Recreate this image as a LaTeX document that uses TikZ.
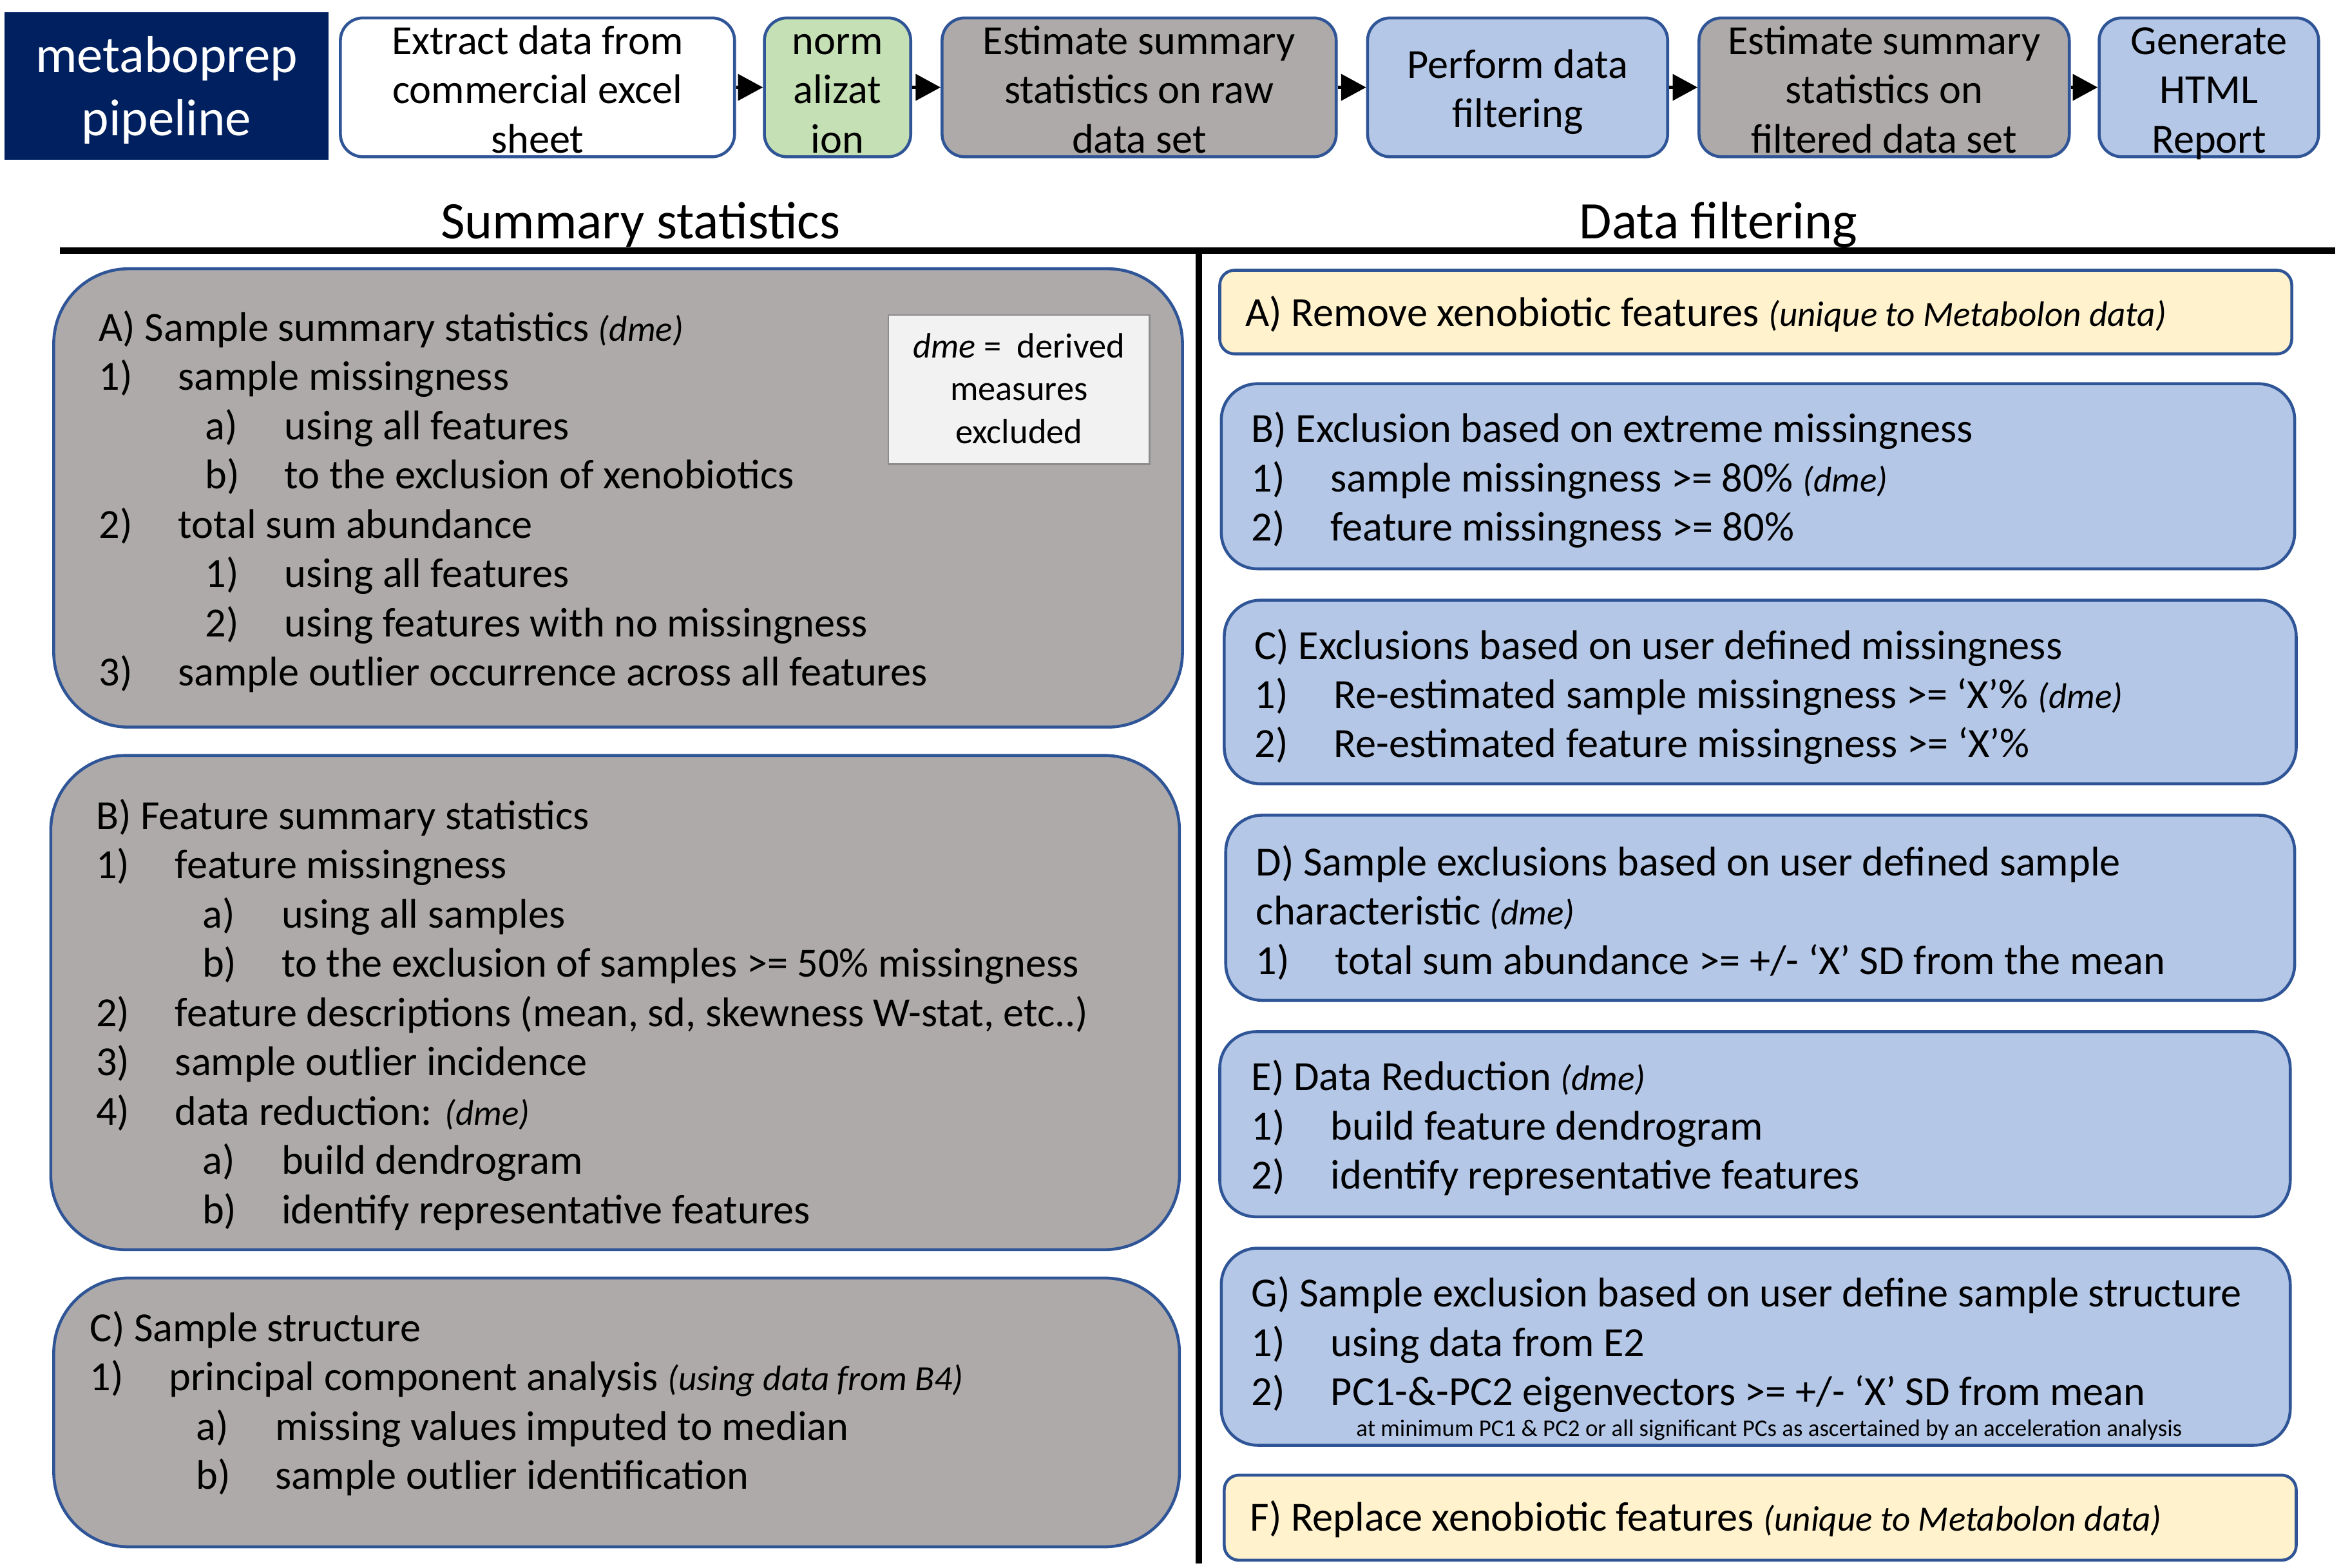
\documentclass[tikz,border=0pt]{standalone}
\usepackage{fontspec}
\setmainfont{Carlito}
\usetikzlibrary{arrows.meta,fit}

\definecolor{navy}{HTML}{002060}
\definecolor{bord}{HTML}{2F5597}
\definecolor{gris}{HTML}{AEAAAA}
\definecolor{bleu}{HTML}{B4C7E7}
\definecolor{vert}{HTML}{C5E0B4}
\definecolor{jaune}{HTML}{FFF2CC}
\definecolor{note}{HTML}{F2F2F2}

\newcommand\dm[1]{{\fontsize{15.7}{21.76}\selectfont\itshape #1}}
\newcommand\itm[2]{\makebox[35pt][l]{#1}#2}
\newcommand\subitm[2]{\hspace*{47pt}\makebox[35pt][l]{#1}#2}

\tikzset{
  etape/.style={draw=bord, line width=1.3pt, rounded corners=10pt, inner sep=0pt},
  gauche/.style={draw=bord, line width=1.3pt, fill=gris, rounded corners=33pt, inner sep=0pt},
  droite/.style={draw=bord, line width=1.3pt, fill=bleu, rounded corners=16pt, inner sep=0pt},
  jaunebox/.style={draw=bord, line width=1.3pt, fill=jaune, rounded corners=6.5pt, inner sep=0pt},
  txt/.style={anchor=north west, align=left, inner sep=0pt},
  etiq/.style={anchor=north, align=center, inner sep=0pt},
  fleche/.style={line width=1.5pt, -{Triangle[length=11pt,width=11.5pt]}},
}

\begin{document}
\begin{tikzpicture}[x=0.023176cm, y=-0.023176cm, font=\fontsize{18.3}{21.76}\selectfont]
\useasboundingbox (0,0) rectangle (1568,1050);

% Bandeau du haut : les etapes du pipeline
\node[fill=navy, inner sep=0pt, fit={(3,8) (220,107)}] (titre) {};
\node[etiq, text=white, font=\fontsize{23}{27.7}\selectfont] (titre-t) at (111.5,19)
  {\strut metaboprep\\pipeline};

\node[etape, fill=white, fit={(228,12) (492,105)}] (extr) {};
\node[etape, fill=vert, fit={(512,12) (610,105)}] (norm) {};
\node[etape, fill=gris, fit={(631,12) (895,105)}] (brut) {};
\node[etape, fill=bleu, fit={(916,12) (1117,105)}] (filt) {};
\node[etape, fill=gris, fit={(1138,12) (1386,105)}] (filtst) {};
\node[etape, fill=bleu, fit={(1406,12) (1553,105)}] (html) {};

\node[etiq] (extr-t) at (360,13) {\strut Extract data from\\commercial excel\\sheet};
\node[etiq] (norm-t) at (561,13) {\strut norm\\alizat\\ion};
\node[etiq] (brut-t) at (763,13) {\strut Estimate summary\\statistics on raw\\data set};
\node[etiq] (filt-t) at (1016.5,29) {\strut Perform data\\filtering};
\node[etiq] (filtst-t) at (1262,13) {\strut Estimate summary\\statistics on\\filtered data set};
\node[etiq] (html-t) at (1479.5,13) {\strut Generate\\HTML\\Report};

\draw[fleche] (extr) -- (norm);
\draw[fleche] (norm) -- (brut);
\draw[fleche] (brut) -- (filt);
\draw[fleche] (filt) -- (filtst);
\draw[fleche] (filtst) -- (html);

% Titres des colonnes
\node[anchor=base, font=\fontsize{23.3}{27}\selectfont] (hstat) at (429,160) {Summary statistics};
\node[anchor=base, font=\fontsize{23.3}{27}\selectfont] (hfilt) at (1151,160) {Data filtering};
\draw[line width=2.85pt] (40,168) -- (1564,168);
\draw[line width=2.6pt] (803,168) -- (803,1047);

% Colonne de gauche (en gris)
\node[gauche, fit={(36,180) (792,487)}] (sA) {};
\node[gauche, fit={(34,506) (790,837)}] (sB) {};
\node[gauche, fit={(36,856) (790,1036)}] (sC) {};

\node[draw=black!45, line width=0.8pt, fill=note, inner sep=0pt, fit={(595,211) (770,311)}] (dme) {};
\node[etiq, font=\fontsize{15.5}{18.8}\selectfont] (dme-t) at (682.5,219.6)
  {\strut\textit{dme} =\ \ derived\\measures\\excluded};

\node[txt] (tA) at (66,205) {\strut A) Sample summary statistics \dm{(dme)}\\
  \itm{1)}{sample missingness}\\
  \subitm{a)}{using all features}\\
  \subitm{b)}{to the exclusion of xenobiotics}\\
  \itm{2)}{total sum abundance}\\
  \subitm{1)}{using all features}\\
  \subitm{2)}{using features with no missingness}\\
  \itm{3)}{sample outlier occurrence across all features}};

\node[txt] (tB) at (64,532) {\strut B) Feature summary statistics\\
  \itm{1)}{feature missingness}\\
  \subitm{a)}{using all samples}\\
  \subitm{b)}{to the exclusion of samples >= 50\% missingness}\\
  \itm{2)}{feature descriptions (mean, sd, skewness W-stat, etc..)}\\
  \itm{3)}{sample outlier incidence}\\
  \itm{4)}{data reduction: \dm{(dme)}}\\
  \subitm{a)}{build dendrogram}\\
  \subitm{b)}{identify representative features}};

\node[txt] (tC) at (60,875) {\strut C) Sample structure\\
  \itm{1)}{principal component analysis \dm{(using data from B4)}}\\
  \subitm{a)}{missing values imputed to median}\\
  \subitm{b)}{sample outlier identification}};

% Colonne de droite (filtrage)
\node[jaunebox, fit={(817,181) (1535,237)}] (fA) {};
\node[droite, fit={(818,257) (1537,381)}] (fB) {};
\node[droite, fit={(820,402) (1538,525)}] (fC) {};
\node[droite, fit={(821,546) (1537,670)}] (fD) {};
\node[droite, fit={(817,691) (1534,815)}] (fE) {};
\node[droite, fit={(818,836) (1534,968)}] (fG) {};
\node[jaunebox, fit={(820,988) (1538,1045)}] (fF) {};

\node[txt] (uA) at (834,195) {\strut A) Remove xenobiotic features \dm{(unique to Metabolon data)}};

\node[txt] (uB) at (838,273) {\strut B) Exclusion based on extreme missingness\\
  \itm{1)}{sample missingness >= 80\% \dm{(dme)}}\\
  \itm{2)}{feature missingness >= 80\%}};

\node[txt] (uC) at (840,418) {\strut C) Exclusions based on user defined missingness\\
  \itm{1)}{Re-estimated sample missingness >= ‘X’\% \dm{(dme)}}\\
  \itm{2)}{Re-estimated feature missingness >= ‘X’\%}};

\node[txt] (uD) at (841,563) {\strut D) Sample exclusions based on user defined sample\\
  characteristic \dm{(dme)}\\
  \itm{1)}{total sum abundance >= +/- ‘X’ SD from the mean}};

\node[txt] (uE) at (838,707) {\strut E) Data Reduction \dm{(dme)}\\
  \itm{1)}{build feature dendrogram}\\
  \itm{2)}{identify representative features}};

\node[txt] (uG) at (838,852) {\strut G) Sample exclusion based on user define sample structure\\
  \itm{1)}{using data from E2}\\
  \itm{2)}{PC1-\&-PC2 eigenvectors >= +/- ‘X’ SD from mean}};
\node[inner sep=0pt, font=\fontsize{10.5}{12}\selectfont] (nG) at (1185,958)
  {at minimum PC1 \& PC2 or all significant PCs as ascertained by an acceleration analysis};

\node[txt] (uF) at (837,1002) {\strut F) Replace xenobiotic features \dm{(unique to Metabolon data)}};

\end{tikzpicture}
\end{document}
